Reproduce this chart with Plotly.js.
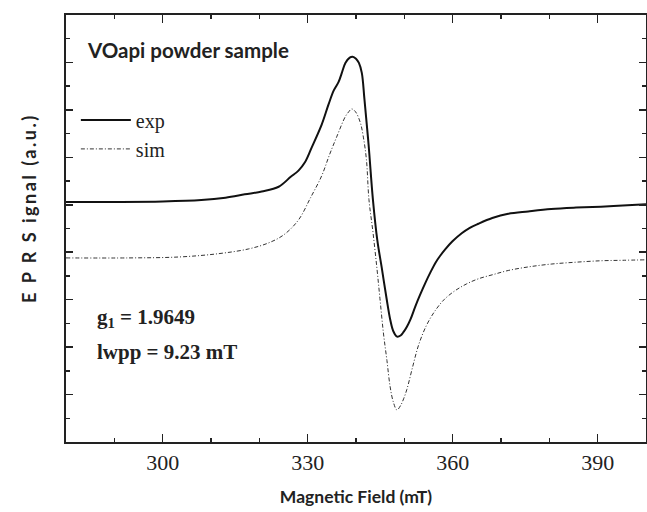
<!DOCTYPE html>
<html>
<head>
<meta charset="utf-8">
<script src="https://cdn.plot.ly/plotly-3.0.1.min.js"></script>
<style>
html,body{margin:0;padding:0;background:#fff;}
#chart{width:647px;height:512px;}
#chart g.annotation[data-index="0"] text.annotation-text{letter-spacing:2.5px;}
</style>
</head>
<body>
<div id="chart"></div>
<script>
// Magnetic field (mT) and EPR signal (a.u.)
const expField = [280.0, 290.0, 300.0, 308.0, 313.0, 317.0, 320.5, 324.0, 326.5, 328.1, 329.4, 330.8, 332.9, 334.3, 335.4, 336.4, 337.0, 337.8, 338.7, 339.3, 340.0, 340.6, 341.2, 341.75, 342.6, 343.5, 344.4, 345.3, 346.3, 347.1, 347.7, 348.5, 349.23, 349.85, 350.53, 351.29, 352.32, 353.25, 354.33, 355.42, 356.45, 357.38, 358.45, 359.96, 361.87, 363.46, 365.32, 368.2, 371.5, 375.63, 380.37, 385.53, 390.68, 395.22, 400.0];
const expSignal = [5.06, 5.06, 5.07, 5.10, 5.15, 5.22, 5.28, 5.38, 5.59, 5.72, 5.89, 6.20, 6.69, 7.11, 7.41, 7.59, 7.76, 7.99, 8.10, 8.12, 8.08, 7.99, 7.78, 7.22, 6.27, 5.11, 4.26, 3.69, 3.04, 2.57, 2.34, 2.22, 2.245, 2.32, 2.43, 2.59, 2.87, 3.10, 3.35, 3.58, 3.78, 3.92, 4.06, 4.23, 4.40, 4.51, 4.60, 4.72, 4.81, 4.86, 4.91, 4.94, 4.96, 4.985, 5.01];

const simField = [280.0, 293.0, 303.4, 311.6, 317.8, 322.0, 325.1, 328.1, 330.6, 332.9, 334.5, 336.0, 337.8, 338.5, 339.1, 339.9, 340.9, 341.55, 342.16, 342.68, 343.5, 344.3, 344.95, 345.67, 346.4, 347.07, 347.73, 348.47, 349.23, 349.85, 350.53, 351.71, 352.94, 354.59, 356.39, 358.31, 360.51, 362.84, 365.32, 368.41, 371.5, 375.63, 380.37, 385.53, 390.68, 395.22, 400.0];
const simSignal = [3.88, 3.88, 3.90, 3.97, 4.07, 4.20, 4.37, 4.68, 5.15, 5.61, 6.05, 6.43, 6.86, 6.96, 7.02, 6.96, 6.73, 6.41, 5.95, 5.11, 4.43, 3.69, 3.03, 2.30, 1.72, 1.16, 0.84, 0.675, 0.77, 0.91, 1.11, 1.58, 2.04, 2.46, 2.77, 3.01, 3.19, 3.33, 3.44, 3.53, 3.615, 3.69, 3.75, 3.79, 3.82, 3.83, 3.84];

const xTickVals = [300, 330, 360, 390];
const xTickText = ['300', '330', '360', '390'];

const traces = [
  {x: expField, y: expSignal, name: 'exp', type: 'scatter', mode: 'lines',
   line: {color: '#111', width: 2, shape: 'spline', smoothing: 1}, legendgroup: 'a'},
  {x: simField, y: simSignal, name: 'sim', type: 'scatter', mode: 'lines',
   line: {color: '#333', width: 1, dash: '4px,2px,1px,2px', shape: 'spline', smoothing: 1}, legendgroup: 'b'}
];

const layout = {
  width: 647, height: 512,
  margin: {l: 66, r: 1, t: 15, b: 70},
  paper_bgcolor: '#fff', plot_bgcolor: '#fff',
  showlegend: true,
  legend: {x: 0.017, y: 0.80, xanchor: 'left', yanchor: 'top', bgcolor: 'rgba(0,0,0,0)',
    font: {family: 'Liberation Serif', size: 20, color: '#222'}, itemwidth: 50,
    tracegroupgap: 0, traceorder: 'grouped'},
  xaxis: {
    range: [280, 400], tickmode: 'array', tickvals: xTickVals, ticktext: xTickText,
    ticks: 'inside', ticklen: 8, tickwidth: 1.5, tickcolor: '#222',
    minor: {dtick: 10, tick0: 0, ticks: 'inside', ticklen: 4, tickwidth: 1.5, tickcolor: '#222'},
    showline: true, linecolor: '#222', linewidth: 2, mirror: 'allticks',
    showgrid: false, zeroline: false,
    tickfont: {family: 'Liberation Serif', size: 22, color: '#222'},
    ticklabelstandoff: 0,
    title: {text: 'Magnetic Field (mT)', font: {family: 'Lato', size: 17.5, color: '#222', weight: 'bold'}, standoff: 16}
  },
  yaxis: {
    range: [0, 9], dtick: 1, tick0: 0, showticklabels: false,
    ticks: 'inside', ticklen: 7, tickwidth: 1.5, tickcolor: '#222',
    minor: {dtick: 0.5, tick0: 0, ticks: 'inside', ticklen: 4, tickwidth: 1.5, tickcolor: '#222'},
    showline: true, linecolor: '#222', linewidth: 2, mirror: 'allticks',
    showgrid: false, zeroline: false
  },
  annotations: [
    {text: '<b>E P R S ignal (a.u.)</b>', xref: 'paper', yref: 'paper', x: -0.064, y: 0.548,
     xanchor: 'center', yanchor: 'middle', textangle: -90, showarrow: false,
     font: {family: 'Lato', size: 18, color: '#222'}},
    {text: '<b>VOapi powder sample</b>', xref: 'paper', yref: 'paper', x: 0.032, y: 0.918,
     xanchor: 'left', yanchor: 'middle', showarrow: false,
     font: {family: 'Lato', size: 20.5, color: '#222'}},
    {text: '<b>g<sub>1</sub> = 1.9649</b>', xref: 'paper', yref: 'paper', x: 0.05, y: 0.29,
     xanchor: 'left', yanchor: 'middle', showarrow: false,
     font: {family: 'Liberation Serif', size: 21, color: '#222'}},
    {text: '<b>lwpp = 9.23 mT</b>', xref: 'paper', yref: 'paper', x: 0.05, y: 0.21,
     xanchor: 'left', yanchor: 'middle', showarrow: false,
     font: {family: 'Liberation Serif', size: 21, color: '#222'}}
  ]
};

Plotly.newPlot('chart', traces, layout, {displayModeBar: false, staticPlot: true});
</script>
</body>
</html>
